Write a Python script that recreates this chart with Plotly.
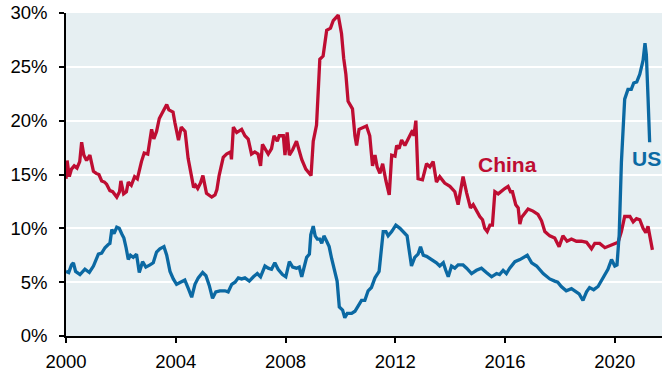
import plotly.graph_objects as go

# China series: (decimal year, percent)
china_x = [2000.00, 2000.04, 2000.12, 2000.2, 2000.3, 2000.4, 2000.5, 2000.57, 2000.65, 2000.75,
           2000.87, 2001.0, 2001.1, 2001.2, 2001.3, 2001.4, 2001.48, 2001.6, 2001.7, 2001.85,
           2001.95, 2002.0, 2002.1, 2002.2, 2002.27, 2002.38, 2002.5, 2002.6, 2002.75, 2002.85,
           2002.98, 2003.12, 2003.2, 2003.3, 2003.4, 2003.55, 2003.67, 2003.75, 2003.9, 2003.97,
           2004.1, 2004.2, 2004.34, 2004.45, 2004.55, 2004.65, 2004.72, 2004.8, 2004.9, 2004.99,
           2005.12, 2005.31, 2005.43, 2005.5, 2005.58, 2005.73, 2005.85, 2006.0, 2006.03, 2006.1,
           2006.22, 2006.4, 2006.52, 2006.64, 2006.76, 2006.88, 2007.0, 2007.09, 2007.16, 2007.25,
           2007.37, 2007.49, 2007.58, 2007.7, 2007.77, 2007.92, 2007.98, 2008.06, 2008.14, 2008.26,
           2008.4, 2008.59, 2008.74, 2008.93, 2009.01, 2009.13, 2009.25, 2009.37, 2009.5, 2009.64,
           2009.74, 2009.92, 2010.04, 2010.12, 2010.2, 2010.28, 2010.44, 2010.53, 2010.59, 2010.68,
           2010.83, 2010.95, 2011.07, 2011.17, 2011.26, 2011.34, 2011.44, 2011.54, 2011.66, 2011.78,
           2011.87, 2011.99, 2012.05, 2012.14, 2012.23, 2012.35, 2012.51, 2012.63, 2012.68, 2012.75,
           2012.83, 2012.99, 2013.14, 2013.26, 2013.38, 2013.5, 2013.62, 2013.8, 2013.99, 2014.17,
           2014.29, 2014.38, 2014.47, 2014.6, 2014.74, 2014.84, 2014.96, 2015.08, 2015.18, 2015.26,
           2015.35, 2015.45, 2015.54, 2015.63, 2015.75, 2015.87, 2015.99, 2016.11, 2016.2, 2016.27,
           2016.39, 2016.48, 2016.54, 2016.6, 2016.7, 2016.84, 2017.02, 2017.2, 2017.33, 2017.45,
           2017.63, 2017.81, 2017.97, 2018.11, 2018.26, 2018.42, 2018.6, 2018.78, 2018.97, 2019.15,
           2019.27, 2019.45, 2019.64, 2019.82, 2020.0, 2020.12, 2020.24, 2020.36, 2020.55, 2020.67,
           2020.79, 2020.91, 2021.03, 2021.13, 2021.21, 2021.27, 2021.37]
china_y = [14.6, 16.3, 14.8, 15.5, 15.8, 15.6, 16.2, 18.0, 16.8, 16.3,
           16.8, 15.3, 15.1, 15.0, 14.4, 14.3, 14.1, 13.5, 13.4, 12.9,
           13.4, 14.4, 13.2, 13.4, 14.3, 14.0, 14.8, 14.6, 16.2, 17.0,
           16.9, 19.2, 18.3, 19.0, 20.2, 21.0, 21.5, 21.0, 20.8, 19.8,
           18.2, 19.4, 19.0, 16.5, 15.0, 13.8, 14.0, 13.7, 14.2, 14.9,
           13.25, 12.9, 13.1, 13.6, 14.9, 16.6, 16.9, 17.1, 16.4, 19.4,
           18.9, 19.2, 18.6, 18.3, 16.9, 17.1, 16.9, 15.8, 17.8, 17.4,
           16.9, 17.4, 18.6, 18.1, 18.6, 18.6, 16.8, 18.9, 16.8, 17.3,
           18.1, 16.4, 15.5, 14.9, 18.1, 19.6, 25.7, 26.0, 28.4, 28.6,
           29.3, 29.8, 28.1, 25.8, 24.3, 21.8, 21.1, 18.6, 17.7, 19.2,
           19.4, 19.5, 18.6, 15.8, 16.8, 15.7, 15.1, 16.0, 14.4, 13.1,
           16.8, 16.7, 17.7, 17.4, 18.2, 17.7, 18.5, 19.1, 18.6, 20.0,
           14.6, 14.5, 16.0, 15.7, 16.2, 14.3, 14.8, 14.2, 13.9, 13.4,
           12.2, 13.4, 14.8, 13.3, 11.9, 12.2, 11.6, 11.1, 10.8, 10.0,
           9.7, 10.3, 10.3, 13.4, 13.2, 13.5, 13.7, 13.9, 13.4, 13.4,
           12.2, 11.9, 10.4, 11.0, 11.3, 11.8, 11.6, 11.3, 10.7, 9.7,
           9.3, 9.1, 8.3, 9.3, 8.8, 9.0, 8.8, 8.8, 8.7, 8.1,
           8.6, 8.6, 8.2, 8.4, 8.6, 8.7, 9.7, 11.1, 11.1, 10.6,
           10.9, 10.8, 10.0, 9.6, 10.2, 9.5, 8.0]

# US series: (decimal year, percent)
us_x = [2000.0, 2000.1, 2000.2, 2000.27, 2000.35, 2000.51, 2000.69, 2000.85, 2001.0, 2001.18,
        2001.3, 2001.42, 2001.54, 2001.6, 2001.67, 2001.75, 2001.85, 2001.94, 2002.03, 2002.11,
        2002.19, 2002.27, 2002.35, 2002.45, 2002.57, 2002.67, 2002.79, 2002.91, 2003.06, 2003.18,
        2003.3, 2003.42, 2003.57, 2003.67, 2003.79, 2003.91, 2004.03, 2004.21, 2004.33, 2004.46,
        2004.58, 2004.7, 2004.82, 2004.98, 2005.1, 2005.22, 2005.34, 2005.46, 2005.61, 2005.79,
        2005.91, 2006.04, 2006.16, 2006.28, 2006.4, 2006.52, 2006.68, 2006.83, 2006.97, 2007.09,
        2007.25, 2007.37, 2007.49, 2007.61, 2007.73, 2007.89, 2008.01, 2008.14, 2008.26, 2008.4,
        2008.5, 2008.59, 2008.67, 2008.77, 2008.87, 2008.92, 2009.01, 2009.08, 2009.16, 2009.25,
        2009.32, 2009.4, 2009.5, 2009.59, 2009.68, 2009.8, 2009.88, 2009.96, 2010.08, 2010.16,
        2010.25, 2010.41, 2010.53, 2010.65, 2010.77, 2010.89, 2011.01, 2011.13, 2011.26, 2011.41,
        2011.5, 2011.56, 2011.66, 2011.74, 2011.87, 2012.02, 2012.17, 2012.31, 2012.43, 2012.51,
        2012.59, 2012.71, 2012.83, 2012.92, 2013.02, 2013.14, 2013.32, 2013.5, 2013.62, 2013.75,
        2013.84, 2013.93, 2014.05, 2014.17, 2014.29, 2014.47, 2014.6, 2014.78, 2014.96, 2015.14,
        2015.32, 2015.51, 2015.69, 2015.8, 2015.93, 2016.05, 2016.17, 2016.36, 2016.54, 2016.66,
        2016.81, 2016.97, 2017.15, 2017.39, 2017.63, 2017.81, 2017.92, 2018.05, 2018.23, 2018.42,
        2018.6, 2018.7, 2018.84, 2018.97, 2019.08, 2019.23, 2019.39, 2019.57, 2019.75, 2019.88,
        2020.0, 2020.08, 2020.16, 2020.24, 2020.31, 2020.36, 2020.48, 2020.6, 2020.69, 2020.8,
        2020.91, 2021.03, 2021.1, 2021.15, 2021.21, 2021.27]
us_y = [6.0, 5.9, 6.6, 6.8, 6.0, 5.7, 6.2, 5.9, 6.5, 7.6,
        7.7, 8.2, 8.5, 8.6, 9.9, 9.5, 10.1, 10.0, 9.5, 9.1,
        8.2, 7.1, 7.5, 7.3, 7.6, 5.9, 6.9, 6.4, 6.6, 6.8,
        7.8, 8.1, 8.3, 7.5, 6.0, 5.3, 4.8, 5.0, 5.2, 4.4,
        3.6, 4.8, 5.4, 5.9, 5.6, 4.7, 3.5, 4.1, 4.2, 4.2,
        4.1, 4.8, 5.0, 5.4, 5.3, 5.4, 5.1, 5.5, 5.8, 5.5,
        6.5, 6.3, 6.2, 6.8, 6.2, 5.7, 5.5, 6.9, 6.4, 6.3,
        6.4, 5.5, 6.3, 7.3, 7.6, 9.4, 10.2, 9.3, 9.0, 9.0,
        8.6, 9.3, 8.8, 8.3, 7.2, 6.0, 5.1, 2.7, 2.4, 1.7,
        2.1, 2.1, 2.3, 2.8, 3.3, 3.3, 4.2, 4.5, 5.4, 6.0,
        7.9, 9.7, 9.7, 9.3, 9.7, 10.3, 10.0, 9.6, 9.3, 7.9,
        6.5, 7.3, 7.6, 8.3, 7.5, 7.4, 7.1, 6.8, 6.5, 6.8,
        6.1, 5.5, 6.5, 6.3, 6.6, 6.6, 6.3, 5.8, 6.1, 6.3,
        5.9, 5.5, 5.8, 5.7, 6.1, 5.8, 6.3, 6.9, 7.1, 7.3,
        7.5, 6.8, 6.5, 5.8, 5.3, 5.1, 5.0, 4.6, 4.2, 4.4,
        4.1, 3.9, 3.3, 4.1, 4.5, 4.3, 4.6, 5.4, 6.2, 7.1,
        6.5, 6.6, 9.4, 16.1, 20.4, 22.0, 22.9, 22.9, 23.5, 23.6,
        24.3, 25.6, 27.2, 26.1, 22.2, 18.0]

x_ticks = [2000, 2004, 2008, 2012, 2016, 2020]
x_tick_labels = ["2000", "2004", "2008", "2012", "2016", "2020"]
y_ticks = [0, 5, 10, 15, 20, 25, 30]
y_tick_labels = ["0%", "5%", "10%", "15%", "20%", "25%", "30%"]

RED = "#BE0D32"
BLUE = "#0B69A3"
FONT = "Liberation Sans, Arial, sans-serif"

fig = go.Figure()
fig.add_trace(go.Scatter(x=china_x, y=china_y, mode="lines", name="China",
                         line=dict(color=RED, width=3.3)))
fig.add_trace(go.Scatter(x=us_x, y=us_y, mode="lines", name="US",
                         line=dict(color=BLUE, width=3.3)))

fig.add_annotation(x=2016.08, y=15.9, text="<b>China</b>", showarrow=False,
                   font=dict(family=FONT, size=21, color=RED))
fig.add_annotation(x=2021.17, y=16.5, text="<b>US</b>", showarrow=False,
                   font=dict(family=FONT, size=21, color=BLUE))

fig.update_layout(
    width=662, height=372,
    margin=dict(l=66, r=0, t=13, b=33),
    paper_bgcolor="white",
    plot_bgcolor="#E6EFF2",
    showlegend=False,
    font=dict(family=FONT, size=18.5, color="black"),
)
fig.update_xaxes(
    range=[2000, 2021.72],
    tickvals=x_ticks, ticktext=x_tick_labels,
    showgrid=False, zeroline=False,
    showline=True, linecolor="black", linewidth=1.5,
    ticks="outside", ticklen=5, tickwidth=1.5, tickcolor="black",
    ticklabelstandoff=3,
)
fig.update_yaxes(
    range=[0, 30],
    tickvals=y_ticks, ticktext=y_tick_labels,
    showgrid=True, gridcolor="white", gridwidth=2,
    zeroline=False,
    showline=True, linecolor="black", linewidth=1.5,
    ticks="outside", ticklen=5, tickwidth=1.5, tickcolor="black",
    ticklabelstandoff=8,
)

fig.write_html("out.html")
